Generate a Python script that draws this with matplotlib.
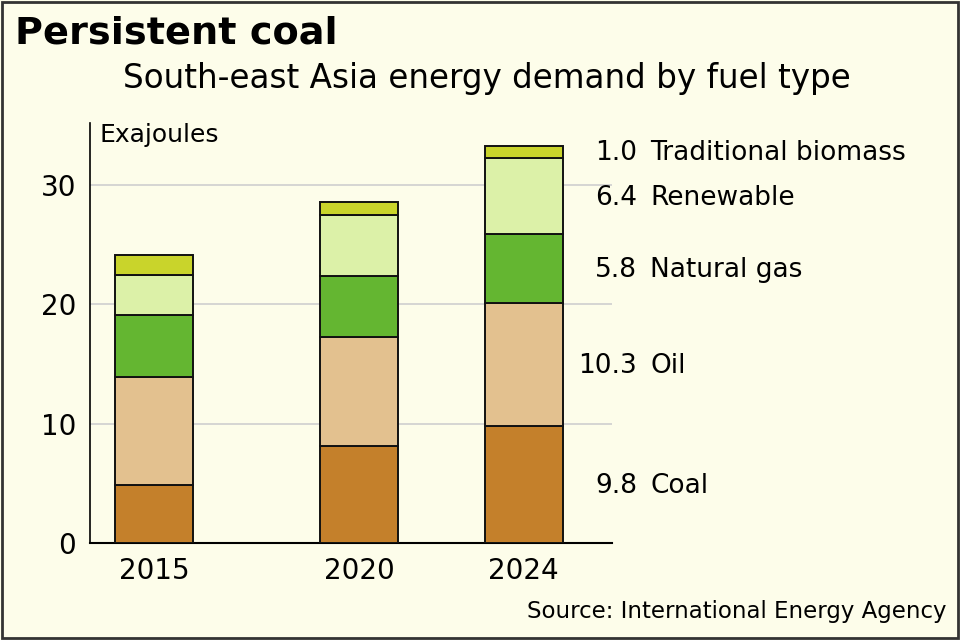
import numpy as np
import matplotlib
matplotlib.use('Agg')
import matplotlib.pyplot as plt
from matplotlib.patches import Rectangle

years = [2015, 2020, 2024]
fuels = ['Coal', 'Oil', 'Natural gas', 'Renewable', 'Traditional biomass']
coal = [4.9, 8.1, 9.8]
oil = [9.0, 9.2, 10.3]
gas = [5.2, 5.1, 5.8]
renewable = [3.4, 5.1, 6.4]
biomass = [1.6, 1.1, 1.0]
colors = ['#c4802b', '#e3c18f', '#64b631', '#dcf1a8', '#c9d42b']

bg = '#fdfdea'
plt.rcParams['font.family'] = ['DejaVu Sans']

fig = plt.figure(figsize=(9.6, 6.4), dpi=100, facecolor=bg)
ax = fig.add_axes([0.09375, 0.1516, 0.5437, 0.6562])
ax.set_facecolor(bg)

series = [coal, oil, gas, renewable, biomass]
bottom = np.zeros(len(years))
for vals, c in zip(series, colors):
    ax.bar(years, vals, width=1.9, bottom=bottom, color=c,
           edgecolor='#111111', linewidth=1.4, zorder=3)
    bottom += np.array(vals)

# labels next to the 2024 bar, at segment middles
bottom = 0.0
for name, vals in zip(fuels, series):
    v = vals[-1]
    mid = bottom + v / 2
    bottom += v
    ax.text(1.048, mid - 0.15, '%.1f' % v, transform=ax.get_yaxis_transform(),
            ha='right', va='center', fontsize=19, clip_on=False)
    ax.text(1.073, mid - 0.15, name, transform=ax.get_yaxis_transform(),
            ha='left', va='center', fontsize=19, clip_on=False)

ax.set_xlim(2013.44, 2026.15)
ax.set_ylim(0, 35.2)
ax.set_xticks(years)
ax.set_xticklabels([str(y) for y in years], fontsize=20)
ax.set_yticks([0, 10, 20, 30])
ax.set_yticklabels(['0', '10', '20', '30'], fontsize=20)
ax.tick_params(axis='x', length=0, pad=10)
ax.tick_params(axis='y', length=0, pad=10)
for y in [10, 20, 30]:
    ax.axhline(y, color='#cfcfcf', linewidth=1.2, zorder=1)
for s in ['top', 'right']:
    ax.spines[s].set_visible(False)
ax.spines['left'].set_linewidth(1.2)
ax.spines['bottom'].set_linewidth(1.5)
ax.text(0.019, 0.971, 'Exajoules', transform=ax.transAxes,
        ha='left', va='center', fontsize=18)

fig.text(0.016, 0.948, 'Persistent coal', ha='left', va='center',
         fontsize=27.5, fontweight='bold')
fig.text(0.507, 0.878, 'South-east Asia energy demand by fuel type',
         ha='center', va='center', fontsize=23.5)
fig.text(0.986, 0.044, 'Source: International Energy Agency',
         ha='right', va='center', fontsize=16.5)

fig.patches.append(Rectangle((0.002, 0.003), 0.996, 0.994, transform=fig.transFigure,
                             fill=False, edgecolor='#333333', linewidth=2))

fig.savefig('out.png', dpi=100, facecolor=bg)
